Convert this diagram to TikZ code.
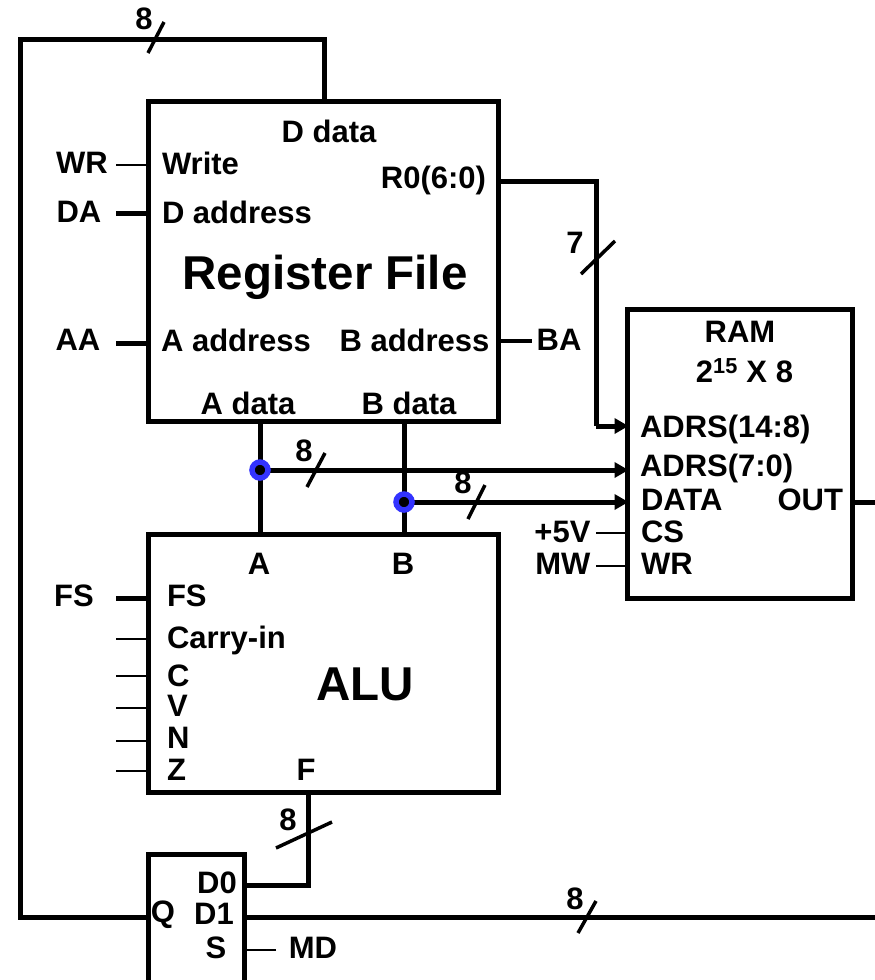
\documentclass[tikz,border=0pt]{standalone}
\usepackage{fontspec}
\setmainfont{Liberation Sans}
\usetikzlibrary{arrows.meta}
\definecolor{tapblue}{RGB}{51,51,255}
\tikzset{
  lbl/.style={font=\fontsize{31}{33}\selectfont\bfseries, inner sep=0pt, outer sep=0pt},
  biglbl/.style={font=\fontsize{47.5}{50}\selectfont\bfseries, inner sep=0pt, outer sep=0pt},
  blockbox/.style={draw, line width=5pt, fill=white, outer sep=0pt, inner sep=0pt},
  bus/.style={line width=5pt},
  busarrow/.style={line width=5pt, -{Triangle[length=14pt,width=15pt]}, shorten >=-1pt},
  ctl/.style={line width=2.5pt},
  slash/.style={line width=3.5pt},
  tap/.style={circle, draw=tapblue, line width=5.5pt, fill=black, minimum size=16pt, inner sep=0pt, outer sep=0pt}
}
\begin{document}
\begin{tikzpicture}[x=1pt,y=-1pt]
  \useasboundingbox (0,0) rectangle (875,980);
  % boxes
  \node[blockbox, anchor=north west, minimum width=350pt, minimum height=320pt] (regfile) at (148,101.5) {};
  \node[blockbox, anchor=north west, minimum width=350pt, minimum height=258pt] (alu) at (148,534) {};
  \node[blockbox, anchor=north west, minimum width=225pt, minimum height=289pt] (ram) at (627.5,309) {};
  \node[blockbox, anchor=north west, minimum width=96pt, minimum height=140pt] (mux) at (148,854) {};
  % register file
  \node[lbl] (ddata) at (329,131) {D data};
  \node[lbl, anchor=west] (write) at (162,163) {Write};
  \node[lbl, anchor=east] (r0) at (486,180) {R0(6:0)};
  \node[lbl, anchor=west] (daddr) at (162,212) {D address};
  \node[biglbl] (regname) at (325,277) {Register File};
  \node[lbl] (aaddr) at (236,340) {A address};
  \node[lbl] (baddr) at (414.5,340) {B address};
  \node[lbl] (adata) at (248,403) {A data};
  \node[lbl] (bdata) at (409,403) {B data};
  % register file inputs
  \node[lbl] (wr) at (82,163) {WR};
  \node[lbl] (da) at (79,212) {DA};
  \node[lbl] (aa) at (78,340) {AA};
  \node[lbl] (ba) at (559,340) {BA};
  \coordinate (wrend) at (116,165);
  \coordinate (daend) at (116,213);
  \coordinate (aaend) at (116,343);
  \coordinate (baend) at (532,341);
  \draw[ctl] (wrend) -- (regfile.west |- wrend);
  \draw[bus] (daend) -- (regfile.west |- daend);
  \draw[bus] (aaend) -- (regfile.west |- aaend);
  \draw[slash] (regfile.east |- baend) -- (baend);
  % ram
  \node[lbl] (ramname) at (740,332) {RAM};
  \node[lbl] (ramsize) at (744.5,371) {2\textsuperscript{15} X 8};
  \node[lbl, anchor=west] (adrshi) at (640,429) {ADRS(14:8)};
  \node[lbl, anchor=west] (adrslo) at (640,468) {ADRS(7:0)};
  \node[lbl, anchor=west] (ramdata) at (641,500) {DATA};
  \node[lbl, anchor=east] (ramout) at (843,500) {OUT};
  \node[lbl, anchor=west] (ramcs) at (641,532) {CS};
  \node[lbl, anchor=west] (ramwr) at (641,564) {WR};
  \node[lbl, anchor=east] (vcc) at (590.5,532) {+5V};
  \node[lbl, anchor=east] (mw) at (590.5,564) {MW};
  \coordinate (csend) at (596,533);
  \coordinate (mwend) at (596,566);
  \coordinate (outend) at (875,502);
  \draw[ctl] (csend) -- (ram.west |- csend);
  \draw[ctl] (mwend) -- (ram.west |- mwend);
  \draw[bus] (ram.east |- outend) -- (outend);
  % alu
  \node[lbl] (alua) at (259,564) {A};
  \node[lbl] (alub) at (403,564) {B};
  \node[lbl, anchor=west] (alufs) at (167,596) {FS};
  \node[lbl] (fsin) at (74,596) {FS};
  \node[lbl, anchor=west] (carry) at (167,640) {Carry-in};
  \node[lbl, anchor=west] (cflag) at (167,676) {C};
  \node[lbl, anchor=west] (vflag) at (167,706) {V};
  \node[lbl, anchor=west] (nflag) at (167,738) {N};
  \node[lbl, anchor=west] (zflag) at (167,770) {Z};
  \node[biglbl] (aluname) at (365,684) {ALU};
  \node[lbl] (aluf) at (306,770) {F};
  \coordinate (fsend) at (116,598);
  \draw[bus] (fsend) -- (alu.west |- fsend);
  \foreach \y/\stub in {639/carrystub,676/cstub,708/vstub,741/nstub,771/zstub} {
    \coordinate (\stub) at (116,\y);
    \draw[ctl] (\stub) -- (alu.west |- \stub);
  }
  % mux
  \node[lbl] (muxq) at (163,915) {Q};
  \node[lbl] (muxd0) at (217,883) {D0};
  \node[lbl] (muxd1) at (214,914) {D1};
  \node[lbl] (muxs) at (216,948) {S};
  \node[lbl] (md) at (313,948) {MD};
  \coordinate (mdend) at (276,950);
  \draw[ctl] (mdend) -- (mux.east |- mdend);
  % buses
  \coordinate (busfb) at (324,39);
  \coordinate (busleft) at (20,39);
  \coordinate (muxin) at (148,917);
  \coordinate (f) at (308,792);
  \coordinate (d0) at (244,885.5);
  \coordinate (outright) at (875,917);
  \coordinate (r0turn) at (596,181);
  \coordinate (adrsturn) at (596,426);
  \coordinate (ajoin) at (260,470);
  \coordinate (bjoin) at (404,502);
  \draw[bus] (regfile.north -| busfb) -- (busfb) -- (busleft) -- (busleft |- muxin) -- (muxin);
  \draw[bus] (d0) -- (d0 -| f) -- (f);
  \draw[bus] (mux.east |- outright) -- (outright);
  \draw[bus] (regfile.south -| ajoin) -- (alu.north -| ajoin);
  \draw[bus] (regfile.south -| bjoin) -- (alu.north -| bjoin);
  \draw[bus] (regfile.east |- r0turn) -- (r0turn) -- (adrsturn);
  \draw[busarrow] (adrsturn) -- (ram.west |- adrsturn);
  \draw[busarrow] (ajoin) -- (ram.west |- ajoin);
  \draw[busarrow] (bjoin) -- (ram.west |- bjoin);
  \node[tap] (tapa) at (ajoin) {};
  \node[tap] (tapb) at (bjoin) {};
  % bus widths
  \foreach \x/\y/\dx/\dy in {156/37.5/8/15.5,598/257.5/17/16.5,316/470/9/17,476.5/502/8.5/17,304/835/28/13,587/917/9/16} {
    \draw[slash] (\x-\dx,\y+\dy) -- (\x+\dx,\y-\dy);
  }
  \node[lbl] (w8top) at (144,19) {8};
  \node[lbl] (w7) at (575,243) {7};
  \node[lbl] (w8a) at (304,451) {8};
  \node[lbl] (w8b) at (463,483) {8};
  \node[lbl] (w8f) at (288,820) {8};
  \node[lbl] (w8out) at (575,899) {8};
\end{tikzpicture}
\end{document}
